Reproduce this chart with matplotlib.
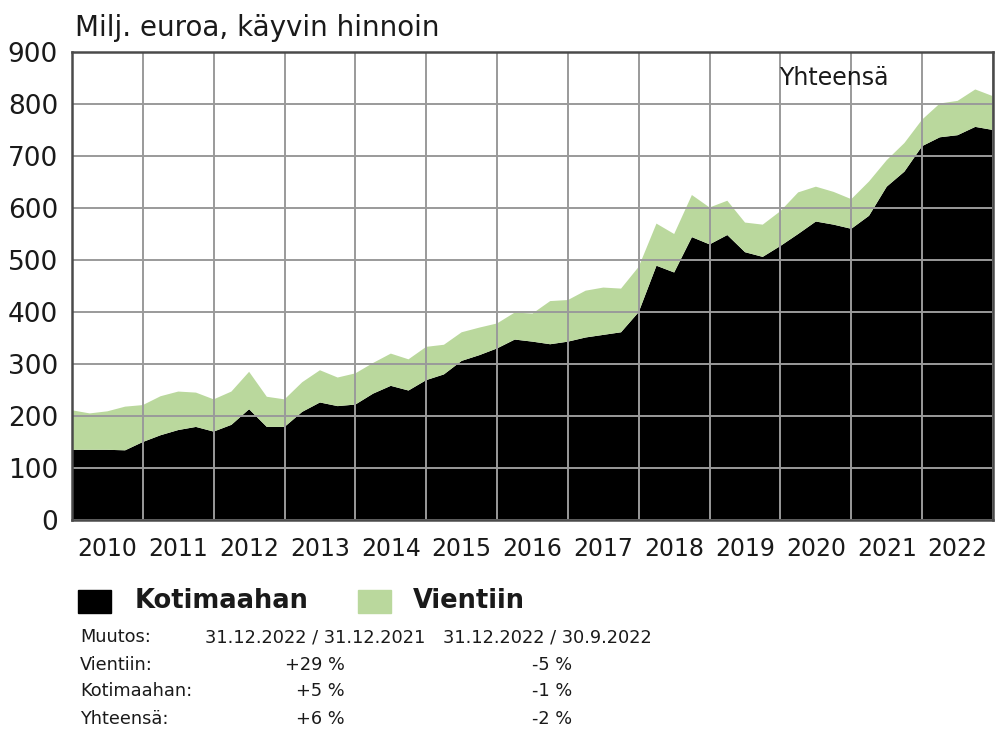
import numpy as np
import matplotlib
matplotlib.use("Agg")
import matplotlib.pyplot as plt
from matplotlib.patches import Rectangle

# ---- data (quarterly, 2010 -> 2023, Milj. euroa) ----
kotimaahan = [135, 135, 135, 134, 150, 163, 173, 179, 170, 183, 213, 179, 179,
              208, 226, 219, 222, 243, 258, 249, 269, 280, 306, 317, 330, 347,
              343, 338, 343, 351, 356, 361, 400, 489, 476, 544, 530, 548, 515,
              506, 527, 550, 574, 568, 560, 585, 641, 670, 719, 736, 740, 756, 750]
vientiin = [76, 70, 74, 84, 71, 75, 74, 66, 62, 64, 72, 58, 53,
            57, 62, 55, 60, 59, 62, 60, 64, 57, 55, 53, 48, 52,
            54, 83, 80, 90, 91, 84, 87, 81, 74, 81, 71, 66, 57,
            62, 67, 80, 67, 63, 57, 66, 51, 55, 51, 65, 66, 72, 65]
years = list(range(2010, 2023))
y_ticks = [0, 100, 200, 300, 400, 500, 600, 700, 800, 900]

title = "Milj. euroa, käyvin hinnoin"
total_label = "Yhteensä"
legend_labels = ["Kotimaahan", "Vientiin"]
table_header = ["Muutos:", "31.12.2022 / 31.12.2021", "31.12.2022 / 30.9.2022"]
table_rows = [["Vientiin:", "+29 %", "-5 %"],
              ["Kotimaahan:", "+5 %", "-1 %"],
              ["Yhteensä:", "+6 %", "-2 %"]]

BLACK = "#000000"
GREEN = "#bad89d"
GRID = "#9a9a9a"
TXT = "#1a1a1a"

W, H = 996, 731
fig = plt.figure(figsize=(W / 100, H / 100), dpi=100)
ax = fig.add_axes([72 / W, 1 - 520 / H, 921 / W, 468 / H])

x = years[0] + np.arange(len(kotimaahan)) / 4.0
ax.stackplot(x, kotimaahan, vientiin, colors=[BLACK, GREEN], linewidth=0, zorder=1)

ax.set_xlim(years[0], years[-1] + 1)
ax.set_ylim(0, 900)
ax.set_xticks(list(years) + [years[-1] + 1])
ax.set_xticklabels([])
ax.set_xticks([y + 0.5 for y in years], minor=True)
ax.set_xticklabels([str(y) for y in years], minor=True)
ax.set_yticks(y_ticks)
ax.set_yticklabels([str(v) for v in y_ticks])
ax.tick_params(axis="both", which="both", length=0)
ax.tick_params(axis="x", which="minor", labelsize=17, pad=12, colors=TXT)
ax.tick_params(axis="y", labelsize=19, pad=10, colors=TXT)
ax.grid(True, which="major", color=GRID, linewidth=1.4, zorder=3)
ax.set_axisbelow(False)
for s in ax.spines.values():
    s.set_color("#4a4a4a")
    s.set_linewidth(1.8)
    s.set_zorder(4)

ax.text(2020.75, 850, total_label, ha="center", va="center", fontsize=17, color=TXT, zorder=5)

fig.text(75 / W, 1 - 28 / H, title, ha="left", va="center", fontsize=20, color=TXT)

# legend
for (x0, lab, col, tx) in [(78, legend_labels[0], BLACK, 135), (358, legend_labels[1], GREEN, 413)]:
    fig.patches.append(Rectangle((x0 / W, 1 - 613 / H), 33 / W, 23 / H,
                                 transform=fig.transFigure, color=col))
    fig.text(tx / W, 1 - 601 / H, lab, ha="left", va="center", fontsize=18.5,
             fontweight="bold", color=TXT)

# table
fs = 12.8
ys = [637, 665, 691, 719]
fig.text(80 / W, 1 - ys[0] / H, table_header[0], ha="left", va="center", fontsize=fs, color=TXT)
fig.text(205 / W, 1 - ys[0] / H, table_header[1], ha="left", va="center", fontsize=fs, color=TXT)
fig.text(443 / W, 1 - ys[0] / H, table_header[2], ha="left", va="center", fontsize=fs, color=TXT)
for yy, row in zip(ys[1:], table_rows):
    fig.text(80 / W, 1 - yy / H, row[0], ha="left", va="center", fontsize=fs, color=TXT)
    fig.text(345 / W, 1 - yy / H, row[1], ha="right", va="center", fontsize=fs, color=TXT)
    fig.text(572 / W, 1 - yy / H, row[2], ha="right", va="center", fontsize=fs, color=TXT)

fig.savefig("out.png", dpi=100)
